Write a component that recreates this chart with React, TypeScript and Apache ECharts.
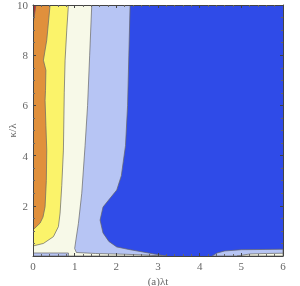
import React, { useEffect, useRef } from "react";
import * as echarts from "echarts";

// Contour levels (low -> high) colors
const levelColors = ["#2f4be8", "#b7c5f4", "#f7f9e8", "#fbf36a", "#e0903c", "#c0262a"];

// Boundary polygons (data coords: [λt, κ/λ]) for each level region (value ≥ level)
const lightBlueMain: number[][] = [
  [0, 10], [2.33, 10], [2.3, 8], [2.27, 6], [2.22, 4.4], [2.12, 3.2], [2.01, 2.63],
  [1.8, 2.2], [1.68, 1.95], [1.61, 1.43], [1.68, 0.92], [1.82, 0.58], [2.01, 0.36],
  [2.3, 0.26], [2.57, 0.18], [2.9, 0.08], [3.22, 0], [0, 0],
];
const lightBlueBump: number[][] = [
  [4.3, 0], [4.42, 0.12], [4.6, 0.2], [5.0, 0.25], [6, 0.27], [6, 0],
];
const creamMain: number[][] = [
  [0, 10], [1.41, 10], [1.36, 8], [1.31, 6], [1.25, 4.4], [1.17, 2.5], [1.09, 1.3],
  [1.03, 0.64], [1.0, 0.3], [1.04, 0.14], [1.5, 0.1], [2.2, 0.07], [2.8, 0.03],
  [3.1, 0], [0.85, 0], [0.85, 0.12], [0, 0.12],
];
const creamBump: number[][] = [
  [4.9, 0], [5.2, 0.08], [5.6, 0.1], [6, 0.11], [6, 0],
];
const yellowMain: number[][] = [
  [0, 10], [0.85, 10], [0.81, 9], [0.77, 7.8], [0.75, 6.5], [0.73, 4.22],
  [0.69, 2.8], [0.65, 1.71], [0.61, 1.17], [0.49, 0.77], [0.25, 0.5], [0, 0.4],
];
const orangeMain: number[][] = [
  [0, 10], [0.41, 10], [0.33, 8.6], [0.25, 7.8], [0.31, 7.4], [0.3, 6.6], [0.29, 6.2],
  [0.31, 5.2], [0.33, 4.22], [0.32, 3], [0.29, 1.96], [0.24, 1.55], [0.17, 1.31], [0, 1.04],
];
const redCorner: number[][] = [
  [0, 10], [0.07, 10], [0, 9.2],
];

const xTicks = [0, 1, 2, 3, 4, 5, 6];
const yTicks = [2, 4, 6, 8, 10];

const regions = [
  { pts: lightBlueMain, level: 1 },
  { pts: lightBlueBump, level: 1 },
  { pts: creamMain, level: 2 },
  { pts: creamBump, level: 2 },
  { pts: yellowMain, level: 3 },
  { pts: orangeMain, level: 4 },
  { pts: redCorner, level: 5 },
];

const FONT = "'Liberation Serif', 'DejaVu Serif', serif";

export default function App() {
  const ref = useRef<HTMLDivElement>(null);
  useEffect(() => {
    if (!ref.current) return;
    const chart = echarts.init(ref.current, undefined, { renderer: "svg" });
    const labelStyle = { color: "#666", fontFamily: FONT, fontSize: 11 };
    const lineStyle = { color: "#444", width: 1 };
    chart.setOption({
      animation: false,
      textStyle: { fontFamily: FONT },
      grid: {
        left: 33, right: 17, top: 5, bottom: 30,
        containLabel: false, outerBoundsMode: "none",
        show: true, backgroundColor: levelColors[0], borderWidth: 0,
      },
      xAxis: [
        {
          type: "value", min: 0, max: 6, interval: 1,
          name: "(a)λt", nameLocation: "middle", nameGap: 19, nameMoveOverlap: false,
          nameTextStyle: { ...labelStyle, fontSize: 11 },
          axisLine: { show: true, onZero: false, lineStyle },
          axisTick: { show: true, inside: true, length: 3, lineStyle: { color: "#444" } },
          minorTick: { show: true, splitNumber: 5, length: 2, lineStyle: { color: "#666" } },
          axisLabel: { ...labelStyle, margin: 4, formatter: (v: number) => (xTicks.includes(v) ? String(v) : "") },
          splitLine: { show: false },
          z: 10,
        },
        {
          type: "value", min: 0, max: 6, interval: 1, position: "top",
          axisLine: { show: true, onZero: false, lineStyle },
          axisTick: { show: true, inside: true, length: 3, lineStyle: { color: "#444" } },
          minorTick: { show: true, splitNumber: 5, length: 2, lineStyle: { color: "#666" } },
          axisLabel: { show: false },
          splitLine: { show: false },
          z: 10,
        },
      ],
      yAxis: [
        {
          type: "value", min: 0, max: 10, interval: 2,
          name: "κ/λ", nameLocation: "middle", nameGap: 16, nameMoveOverlap: false,
          nameTextStyle: { ...labelStyle, fontSize: 11 },
          axisLine: { show: true, onZero: false, lineStyle },
          axisTick: { show: true, inside: true, length: 3, lineStyle: { color: "#444" } },
          minorTick: { show: true, splitNumber: 4, length: 2, lineStyle: { color: "#666" } },
          axisLabel: { ...labelStyle, margin: 5, formatter: (v: number) => (yTicks.includes(v) ? String(v) : "") },
          splitLine: { show: false },
          z: 10,
        },
        {
          type: "value", min: 0, max: 10, interval: 2, position: "right",
          axisLine: { show: true, onZero: false, lineStyle },
          axisTick: { show: true, inside: true, length: 3, lineStyle: { color: "#444" } },
          minorTick: { show: true, splitNumber: 4, length: 2, lineStyle: { color: "#666" } },
          axisLabel: { show: false },
          splitLine: { show: false },
          z: 10,
        },
      ],
      series: [
        {
          type: "custom",
          xAxisIndex: 0,
          yAxisIndex: 0,
          clip: true,
          data: regions.map((_, i) => [i]),
          renderItem: (params: any, api: any) => {
            const r = regions[params.dataIndex];
            return {
              type: "polygon",
              shape: { points: r.pts.map((p) => api.coord(p)) },
              style: { fill: levelColors[r.level], stroke: "#666", lineWidth: 0.7 },
            };
          },
        },
      ],
    });
    return () => chart.dispose();
  }, []);
  return (
    <div
      ref={ref}
      style={{ position: "fixed", left: 0, top: 0, width: 300, height: 286 }}
    />
  );
}
